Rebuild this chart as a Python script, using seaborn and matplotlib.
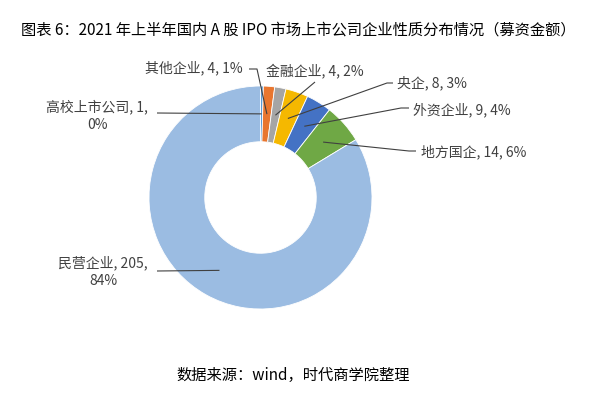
import matplotlib
matplotlib.use("Agg")
import matplotlib.pyplot as plt
import numpy as np
import seaborn as sns

# data (募资金额, 亿元 / share)
names = ["高校上市公司", "其他企业", "金融企业", "央企", "外资企业", "地方国企", "民营企业"]
values = [1, 4, 4, 8, 9, 14, 205]
pcts = ["0%", "1%", "2%", "3%", "4%", "6%", "84%"]
colors = ["#5B9BD5", "#E8762F", "#A5A5A5", "#F5B800", "#4472C4", "#6FA845", "#9BBCE2"]

sns.set_theme(style="white")
plt.rcParams['font.family'] = ['Noto Sans CJK SC', 'DejaVu Sans']

W, H = 596, 397
fig = plt.figure(figsize=(W / 100, H / 100), dpi=100)
ax = fig.add_axes([0, 0, 1, 1])

# pixel-like coords, y pointing down
cx, cy, R = 260.5, 197.5, 111.5
ring = 0.5
wedges, _ = ax.pie(values, colors=colors, center=(cx, cy), radius=R,
                   startangle=-90, counterclock=True,
                   wedgeprops=dict(width=R * ring, edgecolor="white", linewidth=0.6))
ax.set_xlim(0, W)
ax.set_ylim(H, 0)
ax.set_aspect("equal")
ax.axis("off")

# anchor points: middle of the ring at each wedge's mid angle
tot = float(sum(values))
cum = np.cumsum([0] + values[:-1])
mid = (cum + np.array(values) / 2.0) / tot * 2 * np.pi
r_mid = R * (1 - ring / 2)
ax_pts = [(cx + r_mid * np.sin(a), cy - r_mid * np.cos(a)) for a in mid]

# label layout: text pos, alignment, leader start points
lab = {
    "高校上市公司": dict(xy=(97, 116), ha="center", two=True, lead=[(157, 113)]),
    "其他企业": dict(xy=(194, 68), ha="center", two=False, lead=[(249, 69), (257, 69)]),
    "金融企业": dict(xy=(315, 71), ha="center", two=False, lead=[(315, 82)]),
    "央企": dict(xy=(397, 83), ha="left", two=False, lead=[(393, 83), (387, 83)]),
    "外资企业": dict(xy=(413, 110), ha="left", two=False, lead=[(409, 108), (401, 108)]),
    "地方国企": dict(xy=(421, 152), ha="left", two=False, lead=[(416, 151), (409, 151)]),
    "民营企业": dict(xy=(103, 272), ha="center", two=True, lead=[(157, 271)]),
}

tc = "#404040"
for i, n in enumerate(names):
    d = lab[n]
    if d["two"]:
        s = f"{n}, {values[i]},\n{pcts[i]}"
    else:
        s = f"{n}, {values[i]}, {pcts[i]}"
    ax.text(d["xy"][0], d["xy"][1], s, ha=d["ha"], va="center", ma="center",
            fontsize=10, color=tc, linespacing=1.3)
    pts = d["lead"] + [ax_pts[i]]
    xs = [p[0] for p in pts]
    ys = [p[1] for p in pts]
    ax.plot(xs, ys, color="#404040", lw=0.8, solid_capstyle="butt")

ax.text(298, 30, "图表 6：2021 年上半年国内 A 股 IPO 市场上市公司企业性质分布情况（募资金额）",
        ha="center", va="center", fontsize=11, color="black")
ax.text(293, 375, "数据来源：wind，时代商学院整理",
        ha="center", va="center", fontsize=11, color="black")

fig.savefig("out.png", dpi=100)
